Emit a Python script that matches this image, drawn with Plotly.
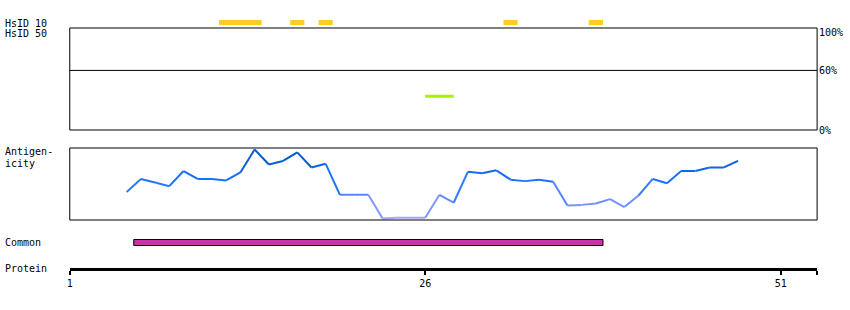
import plotly.graph_objects as go

W, H = 850, 310

# ---------------- data ----------------
antigenicity_start = 5
antigenicity = [0.39, 0.57, 0.52, 0.47, 0.68, 0.57, 0.57, 0.55, 0.66, 0.98,
                0.77, 0.82, 0.94, 0.73, 0.78, 0.35, 0.35, 0.35, 0.02, 0.03,
                0.03, 0.03, 0.35, 0.24, 0.67, 0.65, 0.69, 0.56, 0.54, 0.56,
                0.53, 0.20, 0.21, 0.23, 0.29, 0.18, 0.34, 0.57, 0.51, 0.68,
                0.68, 0.73, 0.73, 0.82]
residues = list(range(antigenicity_start, antigenicity_start + len(antigenicity)))

hsid10_start = [11.5, 16.5, 18.5, 31.5, 37.5]
hsid10_end = [14.5, 17.5, 19.5, 32.5, 38.5]

hsid50_start = [26.0]
hsid50_end = [28.0]
hsid50_value = [34]

common_start = [5.5]
common_end = [38.5]

protein_ticks = [1, 26, 51]
protein_end = 53.56

pct_ticks = [100, 60, 0]
pct_labels = ["100%", "60%", "0%"]

# ---------------- helpers ----------------
FONT = dict(family="DejaVu Sans Mono", size=10, color="black")


def py(p):  # pixel y -> paper y
    return 1 - p / H


def px(p):
    return p / W


stops = [(0.0, (172, 166, 250)), (0.3, (100, 140, 255)), (0.55, (28, 115, 255)),
         (0.8, (10, 96, 216)), (1.0, (0, 80, 190))]


def color_for(v):
    for (a, ca), (b, cb) in zip(stops[:-1], stops[1:]):
        if v <= b:
            t = (v - a) / (b - a) if b > a else 0
            c = [round(ca[i] + t * (cb[i] - ca[i])) for i in range(3)]
            return "rgb(%d,%d,%d)" % tuple(c)
    return "rgb(%d,%d,%d)" % stops[-1][1]


fig = go.Figure()

for i in range(len(antigenicity) - 1):
    m = (antigenicity[i] + antigenicity[i + 1]) / 2
    fig.add_trace(go.Scatter(
        x=residues[i:i + 2], y=antigenicity[i:i + 2], mode="lines",
        line=dict(color=color_for(m), width=2),
        xaxis="x", yaxis="y2", showlegend=False, hoverinfo="skip"))

shapes = []
# HsID box
shapes.append(dict(type="rect", xref="x domain", yref="y domain", x0=0, x1=1, y0=0, y1=1,
                   line=dict(color="black", width=1)))
shapes.append(dict(type="line", xref="x domain", yref="y", x0=0, x1=1, y0=60, y1=60,
                   line=dict(color="black", width=1)))
# Antigenicity box
shapes.append(dict(type="rect", xref="x domain", yref="y2 domain", x0=0, x1=1, y0=0, y1=1,
                   line=dict(color="black", width=1)))
# HsID 10 bars
for s, e in zip(hsid10_start, hsid10_end):
    shapes.append(dict(type="rect", xref="x", yref="paper", x0=s, x1=e,
                       y0=py(25), y1=py(20), fillcolor="#ffcc22", line=dict(width=0)))
# HsID 50 bars
for s, e, v in zip(hsid50_start, hsid50_end, hsid50_value):
    shapes.append(dict(type="rect", xref="x", yref="y", x0=s, x1=e,
                       y0=v - 1.5, y1=v + 1.5, fillcolor="#aaf000", line=dict(width=0)))
# Common bar
for s, e in zip(common_start, common_end):
    shapes.append(dict(type="rect", xref="x", yref="paper", x0=s, x1=e,
                       y0=py(245.5), y1=py(239.5), fillcolor="#c933a8",
                       line=dict(color="black", width=1)))

annotations = []
left_labels = [("HsID 10", 23), ("HsID 50", 34), ("Antigen-", 152), ("icity", 163),
               ("Common", 242), ("Protein", 268)]
for txt, yy in left_labels:
    annotations.append(dict(text=txt, x=px(1), y=py(yy), xref="paper", yref="paper",
                            xanchor="left", yanchor="middle", showarrow=False,
                            borderpad=0, font=FONT))
for v, lab in zip(pct_ticks, pct_labels):
    yy = 130 - v * (102 / 102.7)
    if v == 100:
        yy = 32
    annotations.append(dict(text=lab, x=px(818), y=py(yy), xref="paper", yref="paper",
                            xanchor="left", yanchor="middle", showarrow=False,
                            borderpad=0, font=FONT))

fig.update_layout(
    width=W, height=H, margin=dict(l=0, r=0, t=0, b=0),
    paper_bgcolor="white", plot_bgcolor="white",
    showlegend=False,
    xaxis=dict(domain=[px(67), px(817)], range=[1, protein_end], anchor="free",
               position=py(269), showline=True, linecolor="black", linewidth=3,
               ticks="outside", ticklen=4, tickwidth=2, tickcolor="black",
               tickvals=protein_ticks + [protein_end],
               ticktext=[str(t) for t in protein_ticks] + [""],
               tickfont=FONT, showgrid=False, zeroline=False, fixedrange=True),
    yaxis=dict(domain=[py(130), py(28)], range=[0, 102.7], visible=False,
               anchor="x", fixedrange=True),
    yaxis2=dict(domain=[py(220), py(148)], range=[0, 1], visible=False,
                anchor="x", fixedrange=True),
    shapes=shapes, annotations=annotations,
)

fig.write_html("out.html")
